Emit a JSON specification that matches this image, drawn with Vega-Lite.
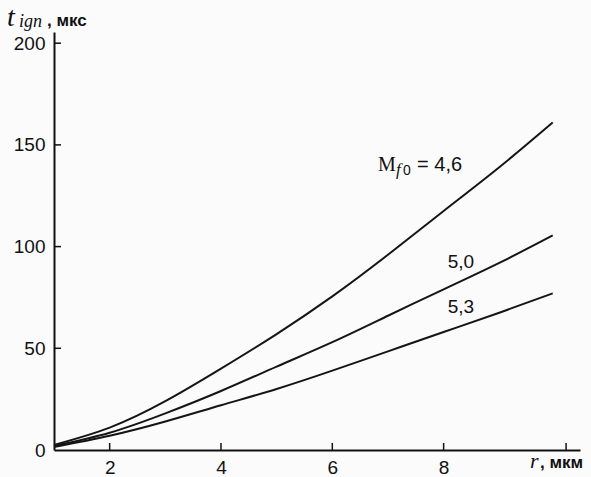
{
  "$schema": "https://vega.github.io/schema/vega-lite/v6.json",
  "width": 526,
  "height": 418,
  "autosize": "none",
  "padding": {"left": 54, "top": 32, "right": 11, "bottom": 27},
  "background": "#fbfbfb",
  "config": {
    "view": {"stroke": null},
    "axis": {
      "grid": false,
      "domainColor": "#111",
      "domainWidth": 2,
      "ticks": false,
      "labelFont": "Liberation Sans",
      "labelFontSize": 19,
      "labelColor": "#111",
      "title": null
    }
  },
  "datasets": {
    "curves": [
      {"r": 1.0, "t": 2.5, "M": "4,6"}, {"r": 2.0, "t": 11, "M": "4,6"}, {"r": 3.0, "t": 24, "M": "4,6"},
      {"r": 4.0, "t": 40, "M": "4,6"}, {"r": 5.0, "t": 57, "M": "4,6"}, {"r": 6.0, "t": 75.5, "M": "4,6"},
      {"r": 7.0, "t": 96, "M": "4,6"}, {"r": 8.0, "t": 117.5, "M": "4,6"}, {"r": 9.0, "t": 139, "M": "4,6"},
      {"r": 9.96, "t": 161, "M": "4,6"},
      {"r": 1.0, "t": 2, "M": "5,0"}, {"r": 2.0, "t": 8.5, "M": "5,0"}, {"r": 3.0, "t": 18, "M": "5,0"},
      {"r": 4.0, "t": 29, "M": "5,0"}, {"r": 5.0, "t": 41, "M": "5,0"}, {"r": 6.0, "t": 53, "M": "5,0"},
      {"r": 7.0, "t": 66, "M": "5,0"}, {"r": 8.0, "t": 79, "M": "5,0"}, {"r": 9.0, "t": 92, "M": "5,0"},
      {"r": 9.96, "t": 105.5, "M": "5,0"},
      {"r": 1.0, "t": 1.5, "M": "5,3"}, {"r": 2.0, "t": 7, "M": "5,3"}, {"r": 3.0, "t": 14, "M": "5,3"},
      {"r": 4.0, "t": 22, "M": "5,3"}, {"r": 5.0, "t": 30, "M": "5,3"}, {"r": 6.0, "t": 39, "M": "5,3"},
      {"r": 7.0, "t": 48.5, "M": "5,3"}, {"r": 8.0, "t": 58, "M": "5,3"}, {"r": 9.0, "t": 67.5, "M": "5,3"},
      {"r": 9.96, "t": 77, "M": "5,3"}
    ],
    "xTicks": [{"v": 2}, {"v": 4}, {"v": 6}, {"v": 8}, {"v": 10.2}],
    "yTicks": [{"v": 50}, {"v": 100}, {"v": 150}, {"v": 200}],
    "curveLabels": [
      {"x": 8.31, "y": 92.4, "text": "5,0"},
      {"x": 8.31, "y": 70.3, "text": "5,3"}
    ],
    "eqLabel": [{"x": 7.522, "y": 137.2, "text": "= 4,6"}],
    "mLabel": [{"x": 6.821, "y": 137.2, "text": "M"}],
    "fLabel": [{"x": 7.144, "y": 135.2, "text": "f"}],
    "zeroSub": [{"x": 7.27, "y": 135.2, "text": "0"}],
    "tMain": [{"x": 0.156, "y": 208.5, "text": "t"}],
    "rMain": [{"x": 9.552, "y": -8.85, "text": "r"}],
    "ignSub": [{"x": 0.371, "y": 208.0, "text": "ign"}],
    "units": [
      {"x": 0.874, "y": 208.5, "text": ",  мкс"},
      {"x": 9.732, "y": -8.85, "text": ",  мкм"}
    ]
  },
  "layer": [
    {
      "data": {"name": "curves"},
      "mark": {"type": "line", "interpolate": "natural", "color": "#151515", "strokeWidth": 2},
      "encoding": {
        "x": {"field": "r", "type": "quantitative", "scale": {"domain": [1, 10.45], "nice": false, "zero": false},
              "axis": {"values": [2, 4, 6, 8], "format": "d", "labelPadding": 8}},
        "y": {"field": "t", "type": "quantitative", "scale": {"domain": [0, 205.5], "nice": false},
              "axis": {"values": [0, 50, 100, 150, 200], "labelPadding": 9}},
        "detail": {"field": "M"}
      }
    },
    {
      "data": {"name": "xTicks"},
      "mark": {"type": "rule", "color": "#111", "strokeWidth": 1.5},
      "encoding": {
        "x": {"field": "v", "type": "quantitative"},
        "y": {"datum": 0, "type": "quantitative"},
        "y2": {"datum": 3.44}
      }
    },
    {
      "data": {"name": "yTicks"},
      "mark": {"type": "rule", "color": "#111", "strokeWidth": 1.5},
      "encoding": {
        "y": {"field": "v", "type": "quantitative"},
        "x": {"datum": 1, "type": "quantitative"},
        "x2": {"datum": 1.126}
      }
    },
    {
      "data": {"name": "curveLabels"},
      "mark": {"type": "text", "font": "Liberation Sans", "fontSize": 19, "color": "#111", "align": "center", "baseline": "middle"},
      "encoding": {"x": {"field": "x", "type": "quantitative"}, "y": {"field": "y", "type": "quantitative"}, "text": {"field": "text"}}
    },
    {
      "data": {"name": "eqLabel"},
      "mark": {"type": "text", "font": "Liberation Sans", "fontSize": 20, "color": "#111", "align": "left", "baseline": "alphabetic"},
      "encoding": {"x": {"field": "x", "type": "quantitative"}, "y": {"field": "y", "type": "quantitative"}, "text": {"field": "text"}}
    },
    {
      "data": {"name": "mLabel"},
      "mark": {"type": "text", "font": "Liberation Serif", "fontSize": 20, "color": "#111", "align": "left", "baseline": "alphabetic"},
      "encoding": {"x": {"field": "x", "type": "quantitative"}, "y": {"field": "y", "type": "quantitative"}, "text": {"field": "text"}}
    },
    {
      "data": {"name": "fLabel"},
      "mark": {"type": "text", "font": "Liberation Serif", "fontStyle": "italic", "fontSize": 17, "color": "#111", "align": "left", "baseline": "alphabetic"},
      "encoding": {"x": {"field": "x", "type": "quantitative"}, "y": {"field": "y", "type": "quantitative"}, "text": {"field": "text"}}
    },
    {
      "data": {"name": "zeroSub"},
      "mark": {"type": "text", "font": "Liberation Sans", "fontSize": 14, "color": "#111", "align": "left", "baseline": "alphabetic"},
      "encoding": {"x": {"field": "x", "type": "quantitative"}, "y": {"field": "y", "type": "quantitative"}, "text": {"field": "text"}}
    },
    {
      "data": {"name": "tMain"},
      "mark": {"type": "text", "font": "Liberation Serif", "fontStyle": "italic", "fontSize": 28, "color": "#111", "align": "left", "baseline": "alphabetic"},
      "encoding": {"x": {"field": "x", "type": "quantitative"}, "y": {"field": "y", "type": "quantitative"}, "text": {"field": "text"}}
    },
    {
      "data": {"name": "rMain"},
      "mark": {"type": "text", "font": "Liberation Serif", "fontStyle": "italic", "fontSize": 22, "color": "#111", "align": "left", "baseline": "alphabetic"},
      "encoding": {"x": {"field": "x", "type": "quantitative"}, "y": {"field": "y", "type": "quantitative"}, "text": {"field": "text"}}
    },
    {
      "data": {"name": "ignSub"},
      "mark": {"type": "text", "font": "Liberation Serif", "fontStyle": "italic", "fontSize": 18, "color": "#111", "align": "left", "baseline": "alphabetic"},
      "encoding": {"x": {"field": "x", "type": "quantitative"}, "y": {"field": "y", "type": "quantitative"}, "text": {"field": "text"}}
    },
    {
      "data": {"name": "units"},
      "mark": {"type": "text", "font": "Liberation Sans", "fontSize": 17, "fontWeight": "bold", "color": "#111", "align": "left", "baseline": "alphabetic"},
      "encoding": {"x": {"field": "x", "type": "quantitative"}, "y": {"field": "y", "type": "quantitative"}, "text": {"field": "text"}}
    }
  ]
}
